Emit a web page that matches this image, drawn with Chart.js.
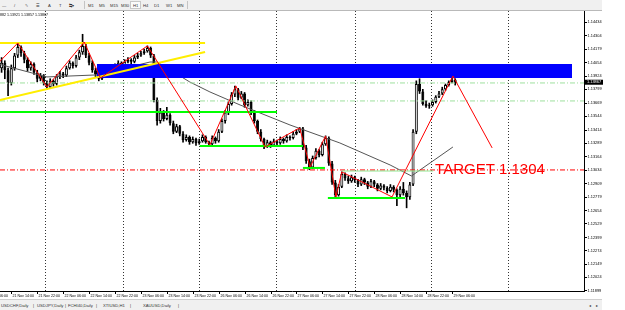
<!DOCTYPE html>
<html>
<head>
<meta charset="utf-8">
<script src="https://cdn.jsdelivr.net/npm/chart.js@4.4.1/dist/chart.umd.min.js"></script>
<style>
  html, body { margin: 0; padding: 0; background: #fff; width: 625px; height: 310px; overflow: hidden; }
  #wrap { position: relative; width: 625px; height: 310px; font-family: "Liberation Sans", Arial, sans-serif; }
  canvas { position: absolute; left: 0; top: 0; }
  #toolbar { position: absolute; left: 0; top: 0; width: 602px; height: 10px; background: #f0f0f0; border-bottom: 1px solid #b9b9b9; }
  #tabs { position: absolute; left: 0; top: 299px; width: 602px; height: 11px; background: #f0f0f0; border-top: 1px solid #cfcfcf; }
  .t { position: absolute; top: 3px; font-size: 4.2px; line-height: 5px; color: #333; white-space: nowrap; }
  .sep { position: absolute; top: 1px; width: 1px; height: 8px; background: #c4c4c4; }
  .on { position: absolute; top: 1px; left: 130px; width: 11px; height: 8px; background: #fbfbfb; border: 1px solid #c8c8c8; box-sizing: border-box; }
</style>
</head>
<body>
<div id="wrap">
  <canvas id="c" width="625" height="310"></canvas>
  <div id="toolbar">
    <span class="t" style="left:2px">—</span>
    <span class="t" style="left:14px">/</span>
    <span class="t" style="left:25px">✎</span>
    <span class="t" style="left:36px">☰</span>
    <span class="t" style="left:48px">A</span>
    <span class="t" style="left:59px">T</span>
    <span class="t" style="left:69px">⇆▾</span>
    <div class="sep" style="left:84px"></div>
    <div class="on"></div>
    <span class="t" style="left:88px">M1</span>
    <span class="t" style="left:99px">M5</span>
    <span class="t" style="left:110px">M15</span>
    <span class="t" style="left:121px">M30</span>
    <span class="t" style="left:133px">H1</span>
    <span class="t" style="left:143px">H4</span>
    <span class="t" style="left:154px">D1</span>
    <span class="t" style="left:166px">W1</span>
    <span class="t" style="left:177px">MN</span>
    <div class="sep" style="left:187px"></div>
  </div>
  <div id="tabs">
    <span class="t" style="left:1px">USDCHF,Daily</span>
    <span class="t" style="left:33px">|</span>
    <span class="t" style="left:37px">USDJPY,Daily</span>
    <span class="t" style="left:65px">|</span>
    <span class="t" style="left:68px">FCHI40,Daily</span>
    <span class="t" style="left:96px">|</span>
    <span class="t" style="left:103px">XTIUSD,H1</span>
    <span class="t" style="left:130px">|</span>
    <span class="t" style="left:143px">XAUUSD,Daily</span>
    <span class="t" style="left:178px">|</span>
    <span class="t" style="left:589px">◂</span>
    <span class="t" style="left:596px">▸</span>
  </div>
</div>
<script>
// USDCHF H1 candles, bar 0 = 21 Nov 11:00
const open = [1.1400,1.1405,1.1398,1.1386,1.1400,1.1412,1.1420,1.1414,1.1408,1.1400,
  1.1404,1.1396,1.1390,1.1393,1.1386,1.1382,1.1388,1.1385,1.1392,1.1395,
  1.1393,1.1400,1.1405,1.1402,1.1410,1.1415,1.1421,1.1412,1.1405,1.1398,
  1.1394,1.1390,1.1393,1.1397,1.1395,1.1400,1.1402,1.1405,1.1403,1.1406,
  1.1408,1.1406,1.1410,1.1412,1.1414,1.1416,1.1419,1.1412,1.1370,1.1350,
  1.1358,1.1352,1.1356,1.1348,1.1340,1.1345,1.1338,1.1332,1.1335,1.1330,
  1.1333,1.1329,1.1331,1.1335,1.1330,1.1328,1.1334,1.1331,1.1340,1.1350,
  1.1358,1.1366,1.1375,1.1380,1.1372,1.1376,1.1365,1.1368,1.1358,1.1350,
  1.1340,1.1333,1.1326,1.1330,1.1327,1.1331,1.1329,1.1333,1.1331,1.1335,
  1.1334,1.1338,1.1340,1.1343,1.1325,1.1312,1.1306,1.1315,1.1322,1.1318,
  1.1328,1.1334,1.1310,1.1292,1.1280,1.1288,1.1300,1.1296,1.1293,1.1297,
  1.1294,1.1290,1.1295,1.1292,1.1288,1.1293,1.1290,1.1286,1.1289,1.1287,
  1.1284,1.1288,1.1285,1.1280,1.1286,1.1282,1.1278,1.1290,1.1340,1.1385,
  1.1378,1.1366,1.1364,1.1365,1.1368,1.1373,1.1376,1.1380,1.1384,1.1387,
  1.1389]
const high = [1.1410,1.1407,1.1400,1.1403,1.1414,1.1423,1.1421,1.1416,1.1410,1.1406,
  1.1405,1.1398,1.1395,1.1394,1.1388,1.1390,1.1389,1.1394,1.1397,1.1396,
  1.1402,1.1407,1.1406,1.1412,1.1417,1.1432,1.1423,1.1414,1.1407,1.1400,
  1.1396,1.1395,1.1399,1.1398,1.1402,1.1404,1.1407,1.1406,1.1408,1.1410,
  1.1409,1.1412,1.1414,1.1416,1.1418,1.1421,1.1420,1.1413,1.1372,1.1362,
  1.1360,1.1363,1.1357,1.1350,1.1347,1.1346,1.1340,1.1337,1.1336,1.1335,
  1.1334,1.1333,1.1337,1.1336,1.1331,1.1336,1.1335,1.1342,1.1352,1.1360,
  1.1368,1.1377,1.1383,1.1381,1.1378,1.1377,1.1370,1.1369,1.1360,1.1351,
  1.1342,1.1334,1.1332,1.1331,1.1333,1.1332,1.1335,1.1334,1.1337,1.1336,
  1.1340,1.1342,1.1344,1.1344,1.1327,1.1314,1.1317,1.1324,1.1323,1.1330,
  1.1336,1.1335,1.1312,1.1294,1.1290,1.1302,1.1301,1.1298,1.1299,1.1298,
  1.1295,1.1297,1.1296,1.1293,1.1295,1.1294,1.1291,1.1291,1.1290,1.1288,
  1.1290,1.1289,1.1286,1.1288,1.1292,1.1284,1.1292,1.1342,1.1388,1.1390,
  1.1380,1.1369,1.1367,1.1370,1.1374,1.1378,1.1382,1.1385,1.1388,1.1391,
  1.1390]
const low = [1.1396,1.1390,1.1374,1.1384,1.1398,1.1410,1.1411,1.1405,1.1397,1.1398,
  1.1394,1.1387,1.1388,1.1384,1.1380,1.1381,1.1383,1.1384,1.1390,1.1391,
  1.1392,1.1399,1.1400,1.1401,1.1408,1.1413,1.1410,1.1403,1.1396,1.1392,
  1.1388,1.1389,1.1391,1.1393,1.1394,1.1398,1.1401,1.1401,1.1402,1.1405,
  1.1404,1.1405,1.1409,1.1411,1.1413,1.1415,1.1410,1.1368,1.1346,1.1348,
  1.1350,1.1351,1.1346,1.1338,1.1339,1.1336,1.1330,1.1331,1.1328,1.1329,
  1.1327,1.1328,1.1330,1.1329,1.1326,1.1327,1.1329,1.1330,1.1339,1.1348,
  1.1356,1.1365,1.1373,1.1370,1.1371,1.1363,1.1364,1.1356,1.1348,1.1338,
  1.1331,1.1324,1.1325,1.1325,1.1326,1.1327,1.1328,1.1329,1.1330,1.1332,
  1.1333,1.1337,1.1339,1.1323,1.1310,1.1304,1.1305,1.1314,1.1316,1.1317,
  1.1327,1.1308,1.1290,1.1277,1.1279,1.1287,1.1294,1.1291,1.1292,1.1292,
  1.1288,1.1289,1.1290,1.1286,1.1287,1.1288,1.1284,1.1285,1.1285,1.1282,
  1.1283,1.1283,1.1270,1.1278,1.1280,1.1268,1.1276,1.1289,1.1338,1.1376,
  1.1365,1.1363,1.1362,1.1364,1.1367,1.1372,1.1375,1.1379,1.1383,1.1386,
  1.1384]
const close = [1.1405,1.1398,1.1386,1.1400,1.1412,1.1420,1.1414,1.1408,1.1400,1.1404,
  1.1396,1.1390,1.1393,1.1386,1.1382,1.1388,1.1385,1.1392,1.1395,1.1393,
  1.1400,1.1405,1.1402,1.1410,1.1415,1.1421,1.1412,1.1405,1.1398,1.1394,
  1.1390,1.1393,1.1397,1.1395,1.1400,1.1402,1.1405,1.1403,1.1406,1.1408,
  1.1406,1.1410,1.1412,1.1414,1.1416,1.1419,1.1412,1.1370,1.1350,1.1358,
  1.1352,1.1356,1.1348,1.1340,1.1345,1.1338,1.1332,1.1335,1.1330,1.1333,
  1.1329,1.1331,1.1335,1.1330,1.1328,1.1334,1.1331,1.1340,1.1350,1.1358,
  1.1366,1.1375,1.1380,1.1372,1.1376,1.1365,1.1368,1.1358,1.1350,1.1340,
  1.1333,1.1326,1.1330,1.1327,1.1331,1.1329,1.1333,1.1331,1.1335,1.1334,
  1.1338,1.1340,1.1343,1.1325,1.1312,1.1306,1.1315,1.1322,1.1318,1.1328,
  1.1334,1.1310,1.1292,1.1280,1.1288,1.1300,1.1296,1.1293,1.1297,1.1294,
  1.1290,1.1295,1.1292,1.1288,1.1293,1.1290,1.1286,1.1289,1.1287,1.1284,
  1.1288,1.1285,1.1280,1.1286,1.1282,1.1278,1.1290,1.1340,1.1385,1.1378,
  1.1366,1.1364,1.1365,1.1368,1.1373,1.1376,1.1380,1.1384,1.1387,1.1389,
  1.1386]

// axes
const priceTicks = [1.14434,1.14304,1.14179,1.14054,1.13924,1.13799,1.13669,1.13544,1.13414,1.13289,
  1.13164,1.13034,1.12909,1.12779,1.12654,1.12529,1.12399,1.12274,1.12149,1.12024,1.11899]
const timeBars = [-5,3,11,19,27,35,43,51,59,67,75,83,91,99,107,115,123,131,139]
const timeLabels = ['21 Nov 06:00','21 Nov 14:00','21 Nov 22:00','22 Nov 06:00','22 Nov 14:00','22 Nov 22:00',
  '23 Nov 06:00','23 Nov 14:00','23 Nov 22:00','26 Nov 06:00','26 Nov 14:00','26 Nov 22:00','27 Nov 06:00',
  '27 Nov 14:00','27 Nov 22:00','28 Nov 06:00','28 Nov 14:00','28 Nov 22:00','29 Nov 06:00']
const gridBars = [13.7, 37.6, 61.2, 84.9, 109.1, 132.7, 156.4]
const xMin = -0.49, xMax = 179.75
const yMin = 1.11894, yMax = 1.14540
const currentPrice = 1.13867
const infoText = 'USDCHF,H1  1.13882 1.13921 1.13857 1.13867'

// drawn objects
const zigzagBars = [-1, 5, 14, 25.5, 30.5, 45, 64.3, 72.3, 81.3, 92, 95.2, 100, 103.2, 105, 120.5, 139.3]
const zigzagPrices = [1.14049, 1.14238, 1.13822, 1.14247, 1.13907, 1.14210, 1.13274, 1.13832, 1.13255,
  1.13435, 1.13066, 1.13359, 1.12783, 1.13019, 1.12783, 1.13926]
const projBars = [139.3, 151.4]
const projPrices = [1.13926, 1.13246]
const maBars = [-1, 14, 29.4, 45.8, 48, 58.1, 64.3, 73.6, 89, 104.4, 119.9, 126.5, 139.3]
const maPrices = [1.14039, 1.13917, 1.13936, 1.14058, 1.14058, 1.13869, 1.13775, 1.13652, 1.13463,
  1.13293, 1.13085, 1.12981, 1.13255]
const zoneBars = [29.4, 176.05]
const zoneTop = 1.14039, zoneBottom = 1.13907
const yellowFlatBars = [-1, 62.8], yellowFlatPrice = 1.14238
const yellowTrendBars = [-0.5, 62.8], yellowTrendPrices = [1.13699, 1.14153]
const greenLevels = [1.13586, 1.13265, 1.13057, 1.12773]
const greenFrom = [-1, 61.2, 93, 100.7]
const greenTo = [85, 93, 99.8, 124.5]
const paleLevel = 1.13028, paleBars = [105, 133.2]
const dashLevels = [1.13860, 1.13690]
const targetPrice = 1.13038
const targetText = 'TARGET 1.1304', targetBar = 133.8

const idx = open.map((_, i) => i)

function seg(label, xs, ys, color, width, dash, order) {
  return {
    type: 'line', label,
    data: xs.map((x, i) => ({ x, y: ys[i] })),
    borderColor: color, borderWidth: width, borderDash: dash || [],
    pointRadius: 0, fill: false, tension: 0, order,
  }
}

const datasets = [
  {
    type: 'bar', label: 'wick',
    data: idx.map(i => ({ x: i, y: [low[i], high[i]] })),
    backgroundColor: '#000', barThickness: 1, grouped: false, order: 20,
  },
  {
    type: 'bar', label: 'body',
    data: idx.map(i => ({ x: i, y: [Math.min(open[i], close[i]), Math.max(open[i], close[i])] })),
    backgroundColor: idx.map(i => close[i] >= open[i] ? '#fff' : '#000'),
    borderColor: '#000', borderWidth: 1, borderSkipped: false, inflateAmount: 0,
    barThickness: 3, grouped: false, order: 19,
  },
  seg('ma', maBars, maPrices, '#555', 1, null, 18),
  {
    type: 'line', label: 'zone',
    data: zoneBars.map(x => ({ x, y: zoneTop })),
    borderWidth: 0, pointRadius: 0, backgroundColor: '#0000ff',
    fill: { value: zoneBottom }, order: 15,
  },
]
dashLevels.forEach(p => datasets.push(seg('level', [xMin, xMax], [p, p], '#9ee09e', 1, [5, 2, 1, 2], 12)))
datasets.push(seg('target', [xMin, xMax], [targetPrice, targetPrice], '#ff0000', 1, [5, 2, 1, 2], 12))
greenLevels.forEach((p, i) => datasets.push(seg('support', [greenFrom[i], greenTo[i]], [p, p], '#00ff00', 2, null, 10)))
datasets.push(seg('pale', paleBars, [paleLevel, paleLevel], '#8fe88f', 1, null, 11))
datasets.push(seg('yellow', yellowFlatBars, [yellowFlatPrice, yellowFlatPrice], '#ffee00', 2, null, 8))
datasets.push(seg('yellow trend', yellowTrendBars, yellowTrendPrices, '#ffee00', 2, null, 8))
datasets.push(seg('zigzag', zigzagBars, zigzagPrices, '#ff0000', 1, null, 5))
datasets.push(seg('projection', projBars, projPrices, '#ff0000', 1, null, 5))

const overlay = {
  id: 'overlay',
  beforeDraw(chart) {
    const ctx = chart.ctx
    ctx.save()
    ctx.fillStyle = '#fff'
    ctx.fillRect(0, 0, chart.width, chart.height)
    ctx.restore()
  },
  afterDraw(chart) {
    const { ctx, chartArea } = chart
    const x = chart.scales.x, y = chart.scales.y
    ctx.save()
    // time axis labels
    ctx.font = '3.6px "Liberation Sans", Arial, sans-serif'
    ctx.fillStyle = '#000'
    ctx.strokeStyle = '#000'
    ctx.lineWidth = 1
    ctx.textAlign = 'left'
    ctx.textBaseline = 'middle'
    timeBars.forEach((b, i) => {
      const px = Math.round(x.getPixelForValue(b)) + 0.5
      ctx.beginPath()
      ctx.moveTo(px, chartArea.bottom)
      ctx.lineTo(px, chartArea.bottom + 3)
      ctx.stroke()
      ctx.fillText(timeLabels[i], px + 1, chartArea.bottom + 4.5)
    })
    // info line
    ctx.textAlign = 'right'
    ctx.fillText(infoText, 48, 15)
    // current price box
    const cy = y.getPixelForValue(currentPrice)
    ctx.fillStyle = '#000'
    ctx.fillRect(chartArea.right + 1, cy - 2.5, 18, 5)
    ctx.fillStyle = '#fff'
    ctx.textAlign = 'left'
    ctx.font = '3.9px "Liberation Sans", Arial, sans-serif'
    ctx.fillText(currentPrice.toFixed(5), chartArea.right + 3, cy)
    // target label
    ctx.fillStyle = '#ff0000'
    ctx.font = '15px "Liberation Sans", Arial, sans-serif'
    ctx.fillText(targetText, x.getPixelForValue(targetBar), y.getPixelForValue(targetPrice))
    ctx.restore()
  },
}

new Chart(document.getElementById('c'), {
  type: 'bar',
  data: { datasets },
  options: {
    responsive: false,
    animation: false,
    devicePixelRatio: 1,
    layout: { padding: { top: 11, bottom: 11, left: 0, right: 0 } },
    plugins: { legend: { display: false }, tooltip: { enabled: false } },
    scales: {
      x: {
        type: 'linear', min: xMin, max: xMax, offset: false,
        afterFit: (s) => { s.height = 8 },
        afterBuildTicks: (s) => { s.ticks = gridBars.map(v => ({ value: v })) },
        ticks: { display: false },
        grid: { offset: false, color: '#333', lineWidth: 1, drawTicks: false },
        border: { color: '#000', dash: [1, 2] },
      },
      y: {
        position: 'right', min: yMin, max: yMax,
        afterFit: (s) => { s.width = 41 },
        afterBuildTicks: (s) => { s.ticks = priceTicks.map(v => ({ value: v })) },
        ticks: {
          autoSkip: false, padding: 0.5, color: '#000',
          font: { size: 3.9, family: '"Liberation Sans", Arial, sans-serif' },
          callback: (v) => Number(v).toFixed(5),
        },
        grid: { drawOnChartArea: false, tickLength: 3, color: '#000' },
        border: { color: '#000' },
      },
    },
  },
  plugins: [overlay],
})
</script>
</body>
</html>
